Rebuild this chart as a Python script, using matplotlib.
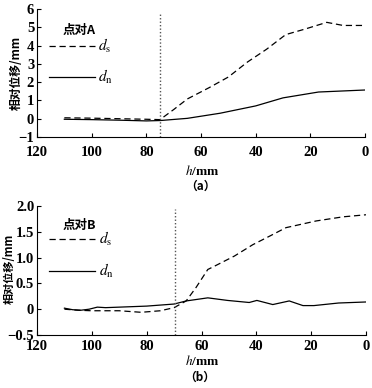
import matplotlib
matplotlib.use("Agg")
import matplotlib.pyplot as plt

plt.rcParams['font.family'] = ['Liberation Serif', 'Noto Sans CJK SC', 'DejaVu Sans']
plt.rcParams['mathtext.fontset'] = 'stix'

# Panel (a) data
a_ds_x = [110, 100, 90, 80, 75, 70, 65, 57, 50, 43, 36, 29, 22, 14, 8, 0]
a_ds_y = [0.05, 0.03, 0.0, -0.03, -0.05, 0.5, 1.08, 1.7, 2.28, 3.1, 3.8, 4.6, 4.9, 5.27, 5.1, 5.1]
a_dn_x = [110, 100, 90, 80, 75, 65, 53, 40, 30, 17, 0]
a_dn_y = [-0.03, -0.05, -0.08, -0.12, -0.1, 0.02, 0.3, 0.7, 1.14, 1.46, 1.57]
a_vline = 75

# Panel (b) data
b_ds_x = [110, 105, 100, 95, 90, 82, 75, 70, 65.6, 62, 57.7, 55.4, 48, 41.3, 35, 29.2, 18.2, 8.4, 0]
b_ds_y = [0.0, -0.02, -0.03, -0.03, -0.03, -0.06, -0.03, 0.03, 0.16, 0.42, 0.77, 0.83, 1.03, 1.25, 1.42, 1.58, 1.71, 1.79, 1.83]
b_dn_x = [110, 107, 104, 101, 98, 95, 90, 85, 80, 75, 70, 65.6, 57.7, 50.5, 42.6, 39.8, 34, 28, 23, 19, 10, 0]
b_dn_y = [0.02, -0.01, -0.02, 0.0, 0.04, 0.03, 0.04, 0.05, 0.06, 0.08, 0.1, 0.16, 0.22, 0.17, 0.13, 0.17, 0.09, 0.16, 0.07, 0.07, 0.12, 0.14]
b_vline = 69.5

a_yticks = [-1, 0, 1, 2, 3, 4, 5, 6]
a_yticklabels = ['−1', '0', '1', '2', '3', '4', '5', '6']
b_yticks = [-0.5, 0, 0.5, 1.0, 1.5, 2.0]
b_yticklabels = ['−0.5', '0', '0.5', '1.0', '1.5', '2.0']
xticks = [120, 100, 80, 60, 40, 20, 0]

fig = plt.figure(figsize=(3.72, 3.88), dpi=100)
W, H = 372, 388
axa = fig.add_axes([37 / W, 1 - 137 / H, (365 - 37) / W, (137 - 9) / H])
axb = fig.add_axes([37 / W, 1 - 335 / H, (366 - 37) / W, (335 - 206) / H])

tickfont = dict(fontsize=10.5, fontweight='bold')
cjk = ['Noto Sans CJK SC', 'DejaVu Sans']


def style(ax, yticks, ylabels, ylim, xpad):
    ax.set_xlim(120, 0)
    ax.set_ylim(*ylim)
    for s in ['top', 'right']:
        ax.spines[s].set_visible(False)
    ax.set_xticks(xticks)
    ax.set_xticklabels([str(t) for t in xticks], **tickfont)
    ax.set_yticks(yticks)
    ax.set_yticklabels(ylabels, **tickfont)
    ax.tick_params(direction='in', length=3, width=0.8)
    ax.tick_params(axis='x', pad=xpad)
    ax.tick_params(axis='y', pad=2)


# Panel a
axa.plot(a_ds_x, a_ds_y, color='black', lw=0.9, ls=(0, (5, 3)))
axa.plot(a_dn_x, a_dn_y, color='black', lw=0.9)
axa.plot([a_vline, a_vline], [-1, 5.75], color='#555555', lw=1.0, ls=(0, (1, 1.5)))
style(axa, a_yticks, a_yticklabels, (-1, 6), 6.5)
axa.plot([115.6, 98.8], [3.96, 3.96], color='black', lw=0.9, ls=(0, (5, 3)))
axa.plot([115.6, 98.8], [2.28, 2.28], color='black', lw=0.9)
axa.text(97.5, 3.96, r'$d_{\mathrm{s}}$', fontsize=11, va='center', ha='left')
axa.text(97.5, 2.28, r'$d_{\mathrm{n}}$', fontsize=11, va='center', ha='left')
axa.text(104.5, 4.8, '点对A', family=cjk, fontsize=9, fontweight='bold', ha='center', va='center')
fig.text(16 / W, 1 - 73 / H, '相对位移/mm', family=cjk, fontsize=8.5, fontweight='bold',
         rotation=90, ha='center', va='center')
fig.text(202 / W, 1 - 171 / H, r'$h$/mm', fontsize=9.5, ha='center', va='center', fontweight='bold')
fig.text(200 / W, 1 - 186 / H, '（a）', family=cjk, fontsize=8.5, ha='center', va='center', fontweight='bold')

# Panel b
axb.plot(b_ds_x, b_ds_y, color='black', lw=0.9, ls=(0, (5, 3)))
axb.plot(b_dn_x, b_dn_y, color='black', lw=0.9)
axb.plot([b_vline, b_vline], [-0.5, 1.95], color='#555555', lw=1.0, ls=(0, (1, 1.5)))
style(axb, b_yticks, b_yticklabels, (-0.5, 2.0), 3.5)
axb.plot([115.6, 98.8], [1.36, 1.36], color='black', lw=0.9, ls=(0, (5, 3)))
axb.plot([115.6, 98.8], [0.75, 0.75], color='black', lw=0.9)
axb.text(97.5, 1.36, r'$d_{\mathrm{s}}$', fontsize=11, va='center', ha='left')
axb.text(97.5, 0.75, r'$d_{\mathrm{n}}$', fontsize=11, va='center', ha='left')
axb.text(104.5, 1.62, '点对B', family=cjk, fontsize=9, fontweight='bold', ha='center', va='center')
fig.text(9 / W, 1 - 269 / H, '相对位移/mm', family=cjk, fontsize=8, fontweight='bold',
         rotation=90, ha='center', va='center')
fig.text(202 / W, 1 - 361 / H, r'$h$/mm', fontsize=9.5, ha='center', va='center', fontweight='bold')
fig.text(200 / W, 1 - 377 / H, '（b）', family=cjk, fontsize=8.5, ha='center', va='center', fontweight='bold')

fig.savefig('out.png', dpi=100)
